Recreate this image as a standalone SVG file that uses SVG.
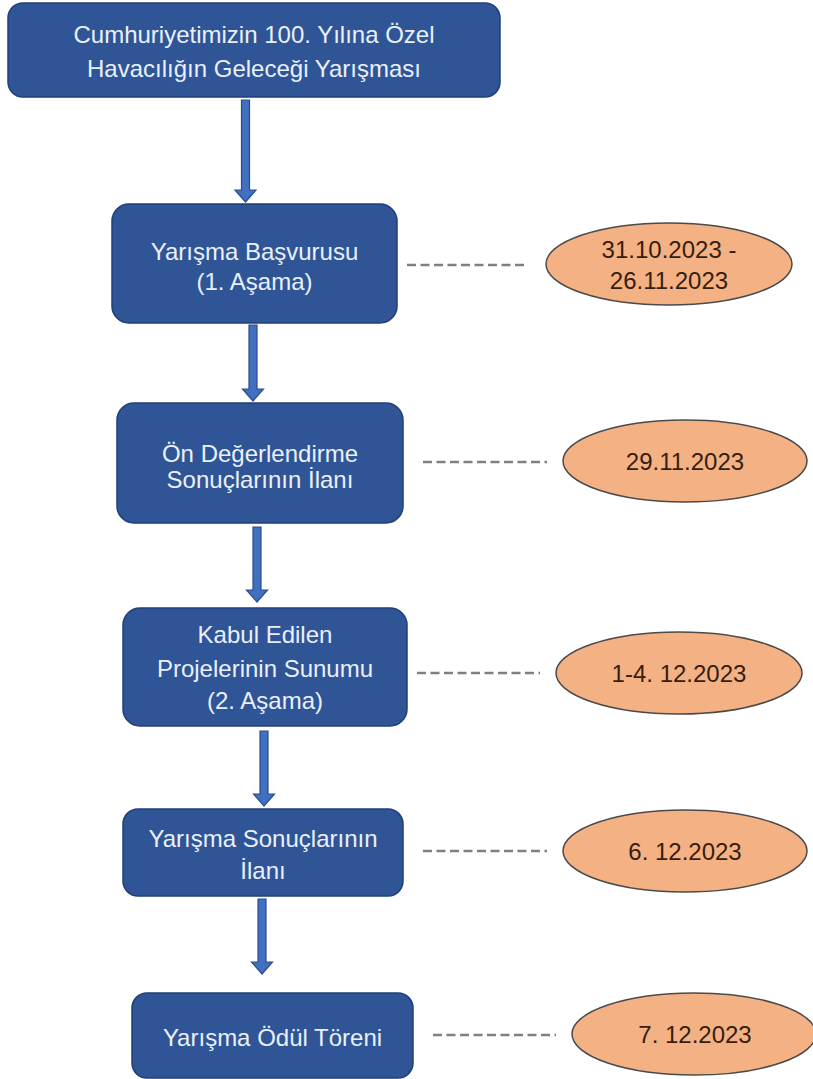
<svg xmlns="http://www.w3.org/2000/svg" width="813" height="1079" viewBox="0 0 813 1079">
<style>
.box{fill:#2f5597;stroke:#203f78;stroke-width:1.5}
.bt{font-family:"Liberation Sans",Arial,sans-serif;font-size:24px;fill:#eaf0f9;text-anchor:middle}
.ell{fill:#f4b183;stroke:#4a4a4a;stroke-width:1.5}
.et{font-family:"Liberation Sans",Arial,sans-serif;font-size:24px;fill:#351e10;text-anchor:middle}
.dash{stroke:#808080;stroke-width:2.5;stroke-dasharray:9 4.5;fill:none}
.arr{fill:#4170c0;stroke:#2b4c8c;stroke-width:1.2}
</style>
<rect width="813" height="1079" fill="#ffffff"/>
<g id="connectors">
<path class="arr" d="M241.5 100 H249.5 V190 H256 L245.5 202 L235 190 H241.5 Z"/>
<path class="arr" d="M249 325 H257 V389 H263.5 L253 401 L242.5 389 H249 Z"/>
<path class="arr" d="M253 527 H261 V590 H267.5 L257 602 L246.5 590 H253 Z"/>
<path class="arr" d="M260 731 H268 V794 H274.5 L264 806 L253.5 794 H260 Z"/>
<path class="arr" d="M258 899 H266 V962 H272.5 L262 974 L251.5 962 H258 Z"/>
<line class="dash" x1="407" y1="265" x2="528" y2="265"/>
<line class="dash" x1="423" y1="462" x2="547" y2="462"/>
<line class="dash" x1="417" y1="673" x2="540" y2="673"/>
<line class="dash" x1="423" y1="851" x2="547" y2="851"/>
<line class="dash" x1="433" y1="1035" x2="556" y2="1035"/>
</g>
<g id="node-title">
<rect class="box" x="8" y="3" width="492" height="94" rx="15"/>
<text class="bt" x="254" y="43">Cumhuriyetimizin 100. Yılına Özel</text>
<text class="bt" x="254" y="77">Havacılığın Geleceği Yarışması</text>
</g>
<g id="node-basvuru">
<rect class="box" x="112" y="204" width="285" height="119" rx="17"/>
<text class="bt" x="254.5" y="260">Yarışma Başvurusu</text>
<text class="bt" x="254.5" y="290">(1. Aşama)</text>
</g>
<g id="node-on-degerlendirme">
<rect class="box" x="117" y="403" width="286" height="120" rx="17"/>
<text class="bt" x="260" y="462">Ön Değerlendirme</text>
<text class="bt" x="260" y="488">Sonuçlarının İlanı</text>
</g>
<g id="node-sunum">
<rect class="box" x="123" y="608" width="284" height="118" rx="17"/>
<text class="bt" x="265" y="643">Kabul Edilen</text>
<text class="bt" x="265" y="677">Projelerinin Sunumu</text>
<text class="bt" x="265" y="709">(2. Aşama)</text>
</g>
<g id="node-sonuc">
<rect class="box" x="123" y="809" width="280" height="87" rx="15"/>
<text class="bt" x="263" y="847">Yarışma Sonuçlarının</text>
<text class="bt" x="263" y="879">İlanı</text>
</g>
<g id="node-odul">
<rect class="box" x="132" y="993" width="281" height="85" rx="15"/>
<text class="bt" x="272.5" y="1046">Yarışma Ödül Töreni</text>
</g>
<g id="date-1">
<ellipse class="ell" cx="669" cy="264" rx="123" ry="41"/>
<text class="et" x="669" y="257.5">31.10.2023 -</text>
<text class="et" x="669" y="288.5">26.11.2023</text>
</g>
<g id="date-2">
<ellipse class="ell" cx="685" cy="461" rx="122" ry="41"/>
<text class="et" x="685" y="469.5">29.11.2023</text>
</g>
<g id="date-3">
<ellipse class="ell" cx="679" cy="673" rx="123" ry="41"/>
<text class="et" x="679" y="681.5">1-4. 12.2023</text>
</g>
<g id="date-4">
<ellipse class="ell" cx="685" cy="851" rx="122" ry="41"/>
<text class="et" x="685" y="859.5">6. 12.2023</text>
</g>
<g id="date-5">
<ellipse class="ell" cx="694" cy="1034" rx="122" ry="41"/>
<text class="et" x="695" y="1042.5">7. 12.2023</text>
</g>
</svg>
